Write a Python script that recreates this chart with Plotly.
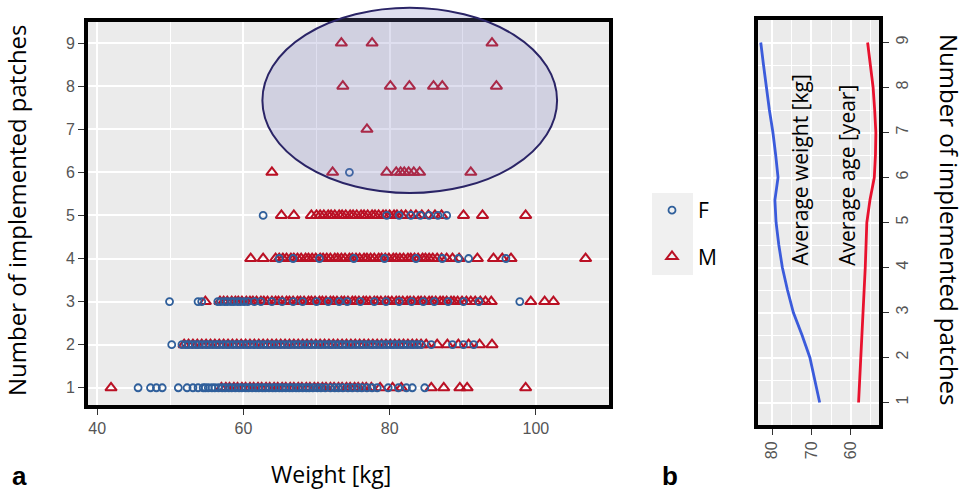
import plotly.graph_objects as go

# ---------------- data: panel a (weight per number of patches) ----------------
patch_ticks = [1, 2, 3, 4, 5, 6, 7, 8, 9]
weight_ticks = [40, 60, 80, 100]

F_row1 = [45.6, 47.3, 48.1, 48.9, 51.1, 52.3, 53.1, 53.8, 54.5,
          54.8, 55.2, 55.7, 56.1, 56.6, 57.1, 57.5, 58.0, 58.4, 58.9, 59.4, 59.8, 60.3, 60.7, 61.2,
          61.7, 62.1, 62.6, 63.0, 63.5, 64.0, 64.4, 64.9, 65.3, 65.8, 66.3, 66.7, 67.2, 67.6, 68.1,
          68.6, 69.0, 69.5, 70.1, 70.6, 71.2, 71.9, 72.5, 73.0, 73.6, 74.3, 74.9, 75.6, 76.2, 76.9,
          77.6, 78.3, 79.8, 81.2, 82.3, 83.1, 84.8]
M_row1 = [41.9,
          57.0, 57.6, 58.1, 58.7, 59.2, 59.8, 60.3, 60.9, 61.4, 62.0, 62.5, 63.1, 63.6, 64.2, 64.7,
          65.3, 65.8, 66.4, 66.9, 67.5, 68.0, 68.6, 69.1, 69.7, 70.2, 70.8, 71.3, 71.9, 72.4, 73.0,
          73.5, 74.1, 74.6, 75.2, 75.7, 76.3, 76.8,
          77.5, 78.7, 80.4, 81.6, 85.7, 87.4, 89.6, 90.6, 98.6]
F_row2 = [50.2,
          51.6, 52.1, 52.5, 53.0, 53.5, 53.9, 54.4, 54.9, 55.3, 55.8, 56.3, 56.7, 57.2, 57.7, 58.1,
          58.6, 59.1, 59.5, 60.0, 60.5, 60.9, 61.4, 61.9, 62.3, 62.8, 63.3, 63.7, 64.2, 64.7, 65.1,
          65.6, 66.1, 66.5, 67.0, 67.5, 67.9, 68.4, 68.9, 69.3, 69.8, 70.3, 70.7, 71.2, 71.7, 72.1,
          72.6, 73.1, 73.5, 74.0, 74.5, 74.9, 75.4, 75.9, 76.3, 76.8, 77.3, 77.7, 78.2, 78.7, 79.1,
          79.6, 80.1, 80.5, 81.0, 81.5, 81.9, 82.4, 82.9, 83.3, 83.8, 84.3,
          85.7, 88.6, 90.1, 91.5]
M_row2 = [51.9, 52.5, 53.1, 53.7, 54.3, 54.9, 55.5, 56.1, 56.7, 57.3, 57.9, 58.5, 59.1, 59.7, 60.3,
          60.9, 61.5, 62.1, 62.7, 63.3, 63.9, 64.5, 65.1, 65.7, 66.3, 66.9, 67.5, 68.1, 68.7, 69.3,
          69.9, 70.5, 71.1, 71.7, 72.3, 72.9, 73.5, 74.1, 74.7, 75.3, 75.9, 76.5, 77.1, 77.7, 78.3,
          78.9, 79.5, 80.1, 80.7, 81.3, 81.9, 82.5, 83.1, 83.7, 84.3,
          85.0, 86.5, 87.9, 89.4, 90.8, 92.3, 94.0]
F_row3 = [49.9, 53.8, 54.3, 56.5, 56.9, 57.4, 57.8, 58.3, 58.7, 59.2, 59.6, 60.1, 60.6, 61.5, 62.4,
          63.9, 65.3, 66.8, 68.1, 70.0, 71.6, 73.1, 74.2, 76.0, 77.9, 79.5, 81.3, 83.0, 84.6, 86.1,
          88.0, 90.1, 92.2, 97.8]
M_row3 = [54.8,
          56.8, 57.3, 57.8, 58.4, 58.9, 59.3, 59.8, 60.4, 60.9, 61.3, 61.8, 62.4, 62.8, 63.3, 63.9,
          64.4, 64.8, 65.3, 65.9, 66.3, 66.8, 67.4, 67.8, 68.3, 68.9, 69.3, 69.8, 70.4, 70.8, 71.3,
          71.9, 72.3, 72.8, 73.4, 73.8, 74.3, 74.9, 75.3, 75.8, 76.4, 76.8, 77.3, 77.9, 78.3, 78.8,
          79.4, 79.8, 80.3, 80.9, 81.3, 81.8, 82.4, 82.8, 83.3, 83.9, 84.3, 84.8, 85.4, 85.8, 86.3,
          86.9, 87.3, 87.8, 88.4, 88.8, 89.3, 89.9, 90.5, 91.1, 91.7, 92.4, 93.1, 93.9,
          99.3, 101.2, 102.4]
F_row4 = [64.9, 66.8, 70.4, 75.1, 79.3, 83.6, 87.2, 89.4, 90.8, 95.9]
M_row4 = [61.0, 62.7, 64.4, 64.9, 65.4, 65.9, 66.5, 66.9, 67.4, 67.9, 68.5, 68.9, 69.4, 69.9, 70.5,
          70.9, 71.4, 71.9, 72.5, 72.9, 73.4, 73.9, 74.5, 74.9, 75.4, 75.9, 76.5, 76.9, 77.4, 77.9,
          78.5, 78.9, 79.4, 79.9, 80.5, 80.9, 81.4, 81.9, 82.5, 82.9, 83.4, 83.9, 84.5, 84.9, 85.4,
          85.9, 86.5, 87.1, 87.8, 88.6, 89.5, 92.0, 94.2, 95.4, 96.6, 106.8]
F_row5 = [62.7, 79.6, 81.3, 82.9, 84.2, 85.4, 86.6, 87.8]
M_row5 = [65.2, 66.9, 69.3, 70.0, 70.5, 71.0, 71.6, 72.0, 72.5, 73.1, 73.5, 74.0, 74.6, 75.0, 75.5,
          76.1, 76.5, 77.0, 77.6, 78.0, 78.5, 79.1, 79.5, 80.0, 80.6, 81.0, 81.6, 82.2, 82.9, 83.6,
          84.4, 85.3, 86.2, 87.1, 90.1, 92.7, 98.6]
F_row6 = [74.5]
M_row6 = [63.9, 72.2, 79.6, 80.9, 81.5, 82.0, 82.6, 83.3, 84.1, 91.1]
F_row7 = []
M_row7 = [76.9]
F_row8 = []
M_row8 = [73.6, 80.1, 82.7, 86.0, 87.2, 94.6]
F_row9 = []
M_row9 = [73.4, 77.6, 94.0]

F_rows = [F_row1, F_row2, F_row3, F_row4, F_row5, F_row6, F_row7, F_row8, F_row9]
M_rows = [M_row1, M_row2, M_row3, M_row4, M_row5, M_row6, M_row7, M_row8, M_row9]

# highlighted region (ellipse) in data units
ell_cx, ell_hw = 82.75, 20.15
ell_cy, ell_hh = 7.67, 2.15

# ---------------- data: panel b (averages per number of patches) ----------------
patch_levels = [1, 1.5, 2, 2.5, 3, 3.5, 4, 4.5, 5, 5.5, 6, 6.5, 7, 7.5, 8, 8.5, 9]
avg_weight = [67.9, 69.2, 70.4, 72.4, 74.6, 76.1, 77.4, 78.3, 79.0, 79.3, 78.5, 79.1, 79.8, 80.7,
              81.5, 82.2, 82.9]
avg_age = [58.0, 57.7, 57.4, 57.2, 56.9, 56.6, 56.3, 56.1, 55.9, 55.1, 54.0, 53.7, 53.6, 53.9,
           54.3, 55.0, 55.7]
b_ticks = [80, 70, 60]

# ---------------- styling ----------------
W, H = 976, 495
XA_RANGE = [38.75, 110.0]
YA_RANGE = [0.6, 9.49]
XB_RANGE = [83.6, 52.8]
YB_RANGE = [0.5, 9.5]
BLUE_PT = "#2F5F9B"
RED_PT = "#BA1024"
TICK_FONT = dict(family="Liberation Sans, Arial", size=16, color="#555555")
TITLE_FONT = dict(family="Open Sans", size=24, color="black")


def px_x(p):
    return p / W


def px_y(p):
    return (H - p) / H


def dom(v, r):
    return (v - r[0]) / (r[1] - r[0])


fx, fy, mx, my = [], [], [], []
for lvl, vals in zip(patch_ticks, F_rows):
    fx += vals
    fy += [lvl] * len(vals)
for lvl, vals in zip(patch_ticks, M_rows):
    mx += vals
    my += [lvl] * len(vals)

fig = go.Figure()
fig.add_trace(go.Scatter(x=mx, y=my, mode="markers", name="M", legendgroup="M", legendrank=2,
                         marker=dict(symbol="triangle-up-open", size=10, color=RED_PT,
                                     line=dict(width=2, color=RED_PT)),
                         xaxis="x", yaxis="y"))
fig.add_trace(go.Scatter(x=fx, y=fy, mode="markers", name="F", legendgroup="F", legendrank=1,
                         marker=dict(symbol="circle-open", size=7, color=BLUE_PT,
                                     line=dict(width=1.8, color=BLUE_PT)),
                         xaxis="x", yaxis="y"))

fig.add_trace(go.Scatter(x=avg_weight, y=patch_levels, mode="lines", showlegend=False,
                         line=dict(color="#3B5BDB", width=2.8), xaxis="x2", yaxis="y2"))
fig.add_trace(go.Scatter(x=avg_age, y=patch_levels, mode="lines", showlegend=False,
                         line=dict(color="#E8112D", width=2.8), xaxis="x2", yaxis="y2"))

axis_common = dict(showline=True, mirror=True, linecolor="black", linewidth=4,
                   ticks="outside", ticklen=6, tickwidth=1.2, tickcolor="#333333",
                   showgrid=True, gridcolor="white", gridwidth=1.6, zeroline=False,
                   tickfont=TICK_FONT)

fig.update_layout(
    width=W, height=H, margin=dict(l=0, r=0, t=0, b=0),
    paper_bgcolor="white", plot_bgcolor="#EBEBEB",
    xaxis=dict(domain=[px_x(88), px_x(609)], range=XA_RANGE, tickvals=weight_ticks,
               anchor="y", minor=dict(dtick=10, tick0=40, showgrid=True, gridcolor="white",
                                      gridwidth=0.8), **axis_common),
    yaxis=dict(domain=[px_y(405), px_y(22)], range=YA_RANGE, tickvals=patch_ticks,
               anchor="x", **axis_common),
    xaxis2=dict(domain=[px_x(758), px_x(879)], range=XB_RANGE, tickvals=b_ticks,
                tickangle=-90, anchor="y2",
                minor=dict(dtick=5, tick0=55, showgrid=True, gridcolor="white", gridwidth=0.8),
                **axis_common),
    yaxis2=dict(domain=[px_y(425), px_y(20)], range=YB_RANGE, tickvals=patch_ticks,
                tickangle=-90, side="right", anchor="x2",
                minor=dict(dtick=0.5, tick0=0.5, showgrid=True, gridcolor="white", gridwidth=0.8),
                **axis_common),
    legend=dict(x=px_x(646), y=px_y(190), xanchor="left", yanchor="top",
                bgcolor="rgba(0,0,0,0)", tracegroupgap=16, itemwidth=42,
                font=dict(family="Open Sans", size=21, color="black")),
    showlegend=True,
)

# highlighted ellipse (axis-domain references so it may extend past the frame)
fig.add_shape(type="circle", xref="x domain", yref="y domain", layer="above",
              x0=dom(ell_cx - ell_hw, XA_RANGE), x1=dom(ell_cx + ell_hw, XA_RANGE),
              y0=dom(ell_cy - ell_hh, YA_RANGE), y1=dom(ell_cy + ell_hh, YA_RANGE),
              fillcolor="rgba(120,120,190,0.24)", line=dict(color="#2A2466", width=2))

# legend key background
fig.add_shape(type="rect", xref="paper", yref="paper", layer="below",
              x0=px_x(652), x1=px_x(693), y0=px_y(275), y1=px_y(193),
              fillcolor="#F0F0F0", line=dict(width=0))

ann = [
    dict(text="Number of implemented patches", x=px_x(17), y=px_y(210), textangle=-90,
         font=TITLE_FONT),
    dict(text="Weight [kg]", x=px_x(331), y=px_y(474),
         font=dict(family="Open Sans", size=23, color="black")),
    dict(text="Number of implemented patches", x=px_x(950), y=px_y(220), textangle=90,
         font=TITLE_FONT),
    dict(text="<b>a</b>", x=px_x(10), y=px_y(476), xanchor="left",
         font=dict(family="Liberation Sans, Arial", size=26, color="black")),
    dict(text="<b>b</b>", x=px_x(660), y=px_y(476), xanchor="left",
         font=dict(family="Liberation Sans, Arial", size=26, color="black")),
]
for a in ann:
    a.setdefault("xanchor", "center")
    fig.add_annotation(xref="paper", yref="paper", yanchor="middle", showarrow=False, **a)

fig.add_annotation(text="Average weight [kg]", x=72.8, y=4.0, xref="x2", yref="y2",
                   textangle=-90, xanchor="center", yanchor="bottom", showarrow=False,
                   font=dict(family="Open Sans", size=21, color="black"))
fig.add_annotation(text="Average age [year]", x=61.0, y=4.0, xref="x2", yref="y2",
                   textangle=-90, xanchor="center", yanchor="bottom", showarrow=False,
                   font=dict(family="Open Sans", size=21, color="black"))

fig.write_html("out.html")
